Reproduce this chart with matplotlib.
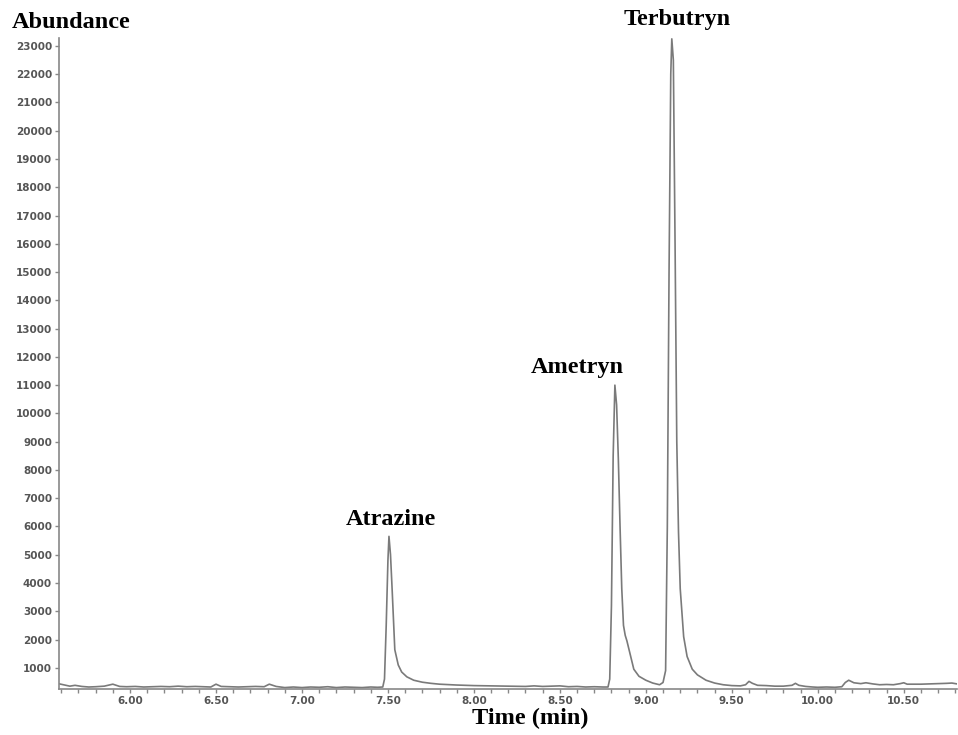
import matplotlib
matplotlib.use("Agg")
import matplotlib.pyplot as plt
from matplotlib.ticker import MultipleLocator, FixedLocator

# retention time (min) and abundance
time = [5.59, 5.62, 5.65, 5.68, 5.72, 5.76, 5.80, 5.85, 5.90, 5.94,
        5.98, 6.03, 6.08, 6.13, 6.18, 6.23, 6.28, 6.33, 6.38, 6.43,
        6.47, 6.50, 6.53, 6.58, 6.63, 6.68, 6.73, 6.78, 6.81, 6.85,
        6.90, 6.95, 7.00, 7.05, 7.10, 7.15, 7.20, 7.25, 7.30, 7.35,
        7.40, 7.44, 7.47, 7.48, 7.49, 7.50, 7.506, 7.515, 7.525, 7.54,
        7.56, 7.58, 7.61, 7.65, 7.70, 7.75, 7.80, 7.90, 8.00, 8.10,
        8.20, 8.30, 8.35, 8.40, 8.45, 8.50, 8.55, 8.60, 8.65, 8.70,
        8.75, 8.78, 8.79, 8.80, 8.81, 8.82, 8.83, 8.84, 8.85, 8.86,
        8.87, 8.88, 8.89, 8.90, 8.91, 8.93, 8.96, 9.00, 9.04, 9.08,
        9.10, 9.115, 9.125, 9.135, 9.145, 9.151, 9.16, 9.17, 9.18, 9.19,
        9.20, 9.22, 9.24, 9.27, 9.30, 9.35, 9.40, 9.45, 9.50, 9.55,
        9.58, 9.60, 9.62, 9.65, 9.70, 9.75, 9.80, 9.85, 9.87, 9.89,
        9.93, 9.97, 10.00, 10.05, 10.10, 10.14, 10.16, 10.18, 10.21, 10.25,
        10.28, 10.32, 10.36, 10.40, 10.44, 10.48, 10.50, 10.52, 10.56, 10.60,
        10.65, 10.70, 10.75, 10.78, 10.81]

abundance = [430, 390, 350, 380, 340, 320, 330, 350, 420, 340,
             330, 340, 320, 330, 340, 330, 350, 330, 340, 330,
             320, 420, 340, 330, 320, 330, 340, 330, 420, 340,
             300, 320, 300, 320, 310, 330, 300, 320, 310, 300,
             320, 310, 320, 600, 2500, 4800, 5650, 5000, 3700, 1640,
             1100, 850, 680, 560, 490, 450, 420, 390, 370, 360,
             350, 340, 360, 340, 350, 360, 330, 340, 320, 330,
             320, 320, 600, 3200, 8500, 11000, 10300, 8400, 6000, 3800,
             2500, 2150, 1950, 1700, 1450, 950, 700, 560, 460, 400,
             480, 900, 6000, 15000, 22000, 23250, 22500, 16000, 9000, 5800,
             3800, 2100, 1400, 950, 750, 560, 460, 400, 370, 360,
             400, 520, 450, 380, 370, 350, 350, 380, 450, 380,
             340, 320, 310, 320, 310, 330, 480, 560, 470, 440,
             470, 430, 400, 410, 400, 440, 470, 420, 420, 420,
             430, 440, 450, 460, 430]

peak_names = ["Atrazine", "Ametryn", "Terbutryn"]
peak_label_x = [7.517, 8.60, 9.18]
peak_label_y = [6235, 11610, 23920]

y_ticks = list(range(1000, 23001, 1000))

fig = plt.figure(figsize=(9.58, 7.35), dpi=100)
ax = fig.add_axes([0.0616, 0.0626, 0.9374, 0.8857])

ax.plot(time, abundance, color="#7a7a7a", linewidth=1.2)

ax.set_xlim(5.587, 10.81)
ax.set_ylim(250, 23280)

ax.xaxis.set_major_locator(MultipleLocator(0.5))
ax.xaxis.set_minor_locator(MultipleLocator(0.1))
ax.xaxis.set_major_formatter(plt.FuncFormatter(lambda v, p: f"{v:.2f}"))
ax.yaxis.set_major_locator(FixedLocator(y_ticks))

for side in ["top", "right"]:
    ax.spines[side].set_visible(False)
for side in ["left", "bottom"]:
    ax.spines[side].set_color("#888888")
    ax.spines[side].set_linewidth(1.2)

ax.tick_params(axis="both", which="both", colors="#888888", length=3,
               width=1, labelcolor="#555555", labelsize=7.5, pad=2)
for lab in ax.get_xticklabels() + ax.get_yticklabels():
    lab.set_fontweight("bold")

serif = ["Liberation Serif", "DejaVu Serif"]
for name, x, y in zip(peak_names, peak_label_x, peak_label_y):
    ax.text(x, y, name, ha="center", va="center", fontsize=17.5,
            fontweight="bold", family=serif, clip_on=False)

fig.text(12 / 958, 1 - 22 / 735, "Abundance", ha="left", va="center",
         fontsize=17.5, fontweight="bold", family=serif)
fig.text(530 / 958, 1 - 718 / 735, "Time (min)", ha="center", va="center",
         fontsize=17.5, fontweight="bold", family=serif)

fig.savefig("out.png", dpi=100)
